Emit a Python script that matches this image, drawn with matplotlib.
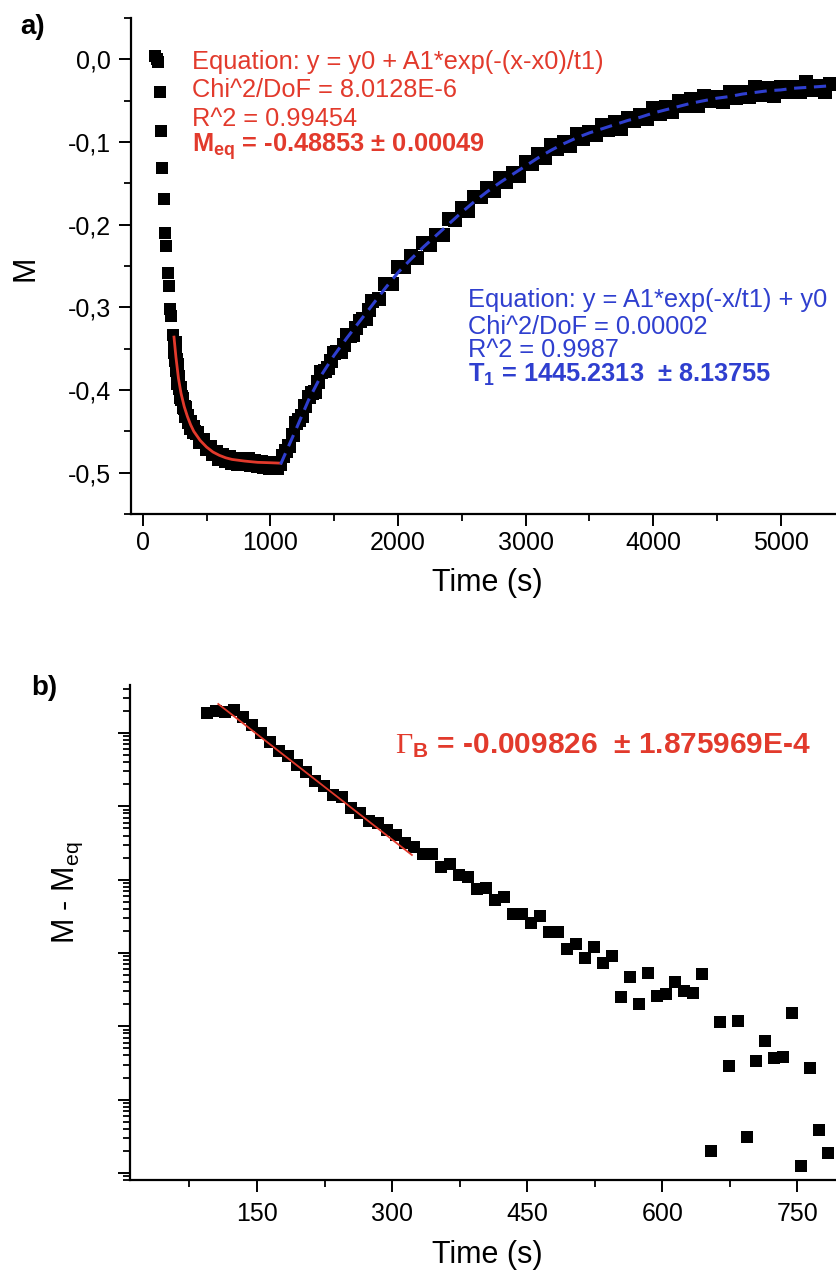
import numpy as np
import matplotlib
matplotlib.use('Agg')
import matplotlib.pyplot as plt
from matplotlib.ticker import MultipleLocator, FuncFormatter, LogLocator, NullFormatter

plt.rcParams['font.family'] = ['Liberation Sans', 'DejaVu Sans']
plt.rcParams['mathtext.fontset'] = 'custom'
plt.rcParams['mathtext.rm'] = 'Liberation Sans'
plt.rcParams['mathtext.bf'] = 'Liberation Sans:bold'
plt.rcParams['mathtext.it'] = 'Liberation Sans:italic'
plt.rcParams['mathtext.sf'] = 'Liberation Serif'

# ---- panel a : magnetisation vs time ----
# first sparse points of the fast drop
t_drop = [100, 112, 122, 134, 141, 150, 163, 178, 185, 198, 205, 216, 223, 236]
m_drop = [0.004, 0.000, -0.003, -0.039, -0.087, -0.131, -0.169, -0.210, -0.226,
          -0.259, -0.274, -0.302, -0.311, -0.333]

# dense part (decay to M_eq then recovery)
t_band = [250, 260, 270, 280, 290, 300, 310, 320, 330, 340, 350, 360, 370, 380, 390, 400,
          425, 450, 475, 500, 525, 550, 575, 600, 625, 650, 675, 700, 725, 750, 775, 800,
          825, 850, 875, 900, 925, 950, 975, 1000, 1025, 1050, 1075,
          1100, 1150, 1200, 1250, 1300, 1350, 1400, 1450, 1500, 1550, 1600, 1650, 1700,
          1750, 1800, 1850, 1900, 1950, 2000, 2050, 2100, 2150, 2200, 2250, 2300, 2350,
          2400, 2450, 2500, 2550, 2600, 2650, 2700, 2750, 2800, 2850, 2900, 2950, 3000,
          3050, 3100, 3150, 3200, 3250, 3300, 3350, 3400, 3450, 3500, 3550, 3600, 3650,
          3700, 3750, 3800, 3850, 3900, 3950, 4000, 4050, 4100, 4150, 4200, 4250, 4300,
          4350, 4400, 4450, 4500, 4550, 4600, 4650, 4700, 4750, 4800, 4850, 4900, 4950,
          5000, 5050, 5100, 5150, 5200, 5250, 5300, 5350, 5390]
m_band = [-0.343, -0.364, -0.376, -0.392, -0.397, -0.409, -0.411, -0.421, -0.422, -0.431,
          -0.431, -0.439, -0.439, -0.446, -0.445, -0.451,
          -0.452, -0.463, -0.461, -0.471, -0.469, -0.478, -0.475, -0.483, -0.479, -0.486,
          -0.481, -0.488, -0.483, -0.489, -0.484, -0.490, -0.484, -0.491, -0.486, -0.492,
          -0.487, -0.493, -0.488, -0.494, -0.488, -0.494, -0.490,
          -0.480, -0.468, -0.440, -0.432, -0.408, -0.402, -0.378, -0.373, -0.355, -0.354,
          -0.334, -0.333, -0.317, -0.314, -0.292, -0.290, -0.272, -0.272, -0.251, -0.251,
          -0.238, -0.240, -0.222, -0.225, -0.212, -0.212, -0.193, -0.194, -0.180, -0.183,
          -0.166, -0.167, -0.156, -0.159, -0.143, -0.148, -0.138, -0.141, -0.124, -0.127,
          -0.115, -0.119, -0.104, -0.108, -0.100, -0.105, -0.090, -0.096, -0.088, -0.092,
          -0.079, -0.086, -0.076, -0.084, -0.071, -0.075, -0.067, -0.072, -0.059, -0.066,
          -0.058, -0.064, -0.051, -0.057, -0.048, -0.056, -0.044, -0.051, -0.045, -0.052,
          -0.040, -0.047, -0.040, -0.046, -0.034, -0.043, -0.035, -0.044, -0.033, -0.039,
          -0.033, -0.040, -0.028, -0.037, -0.032, -0.040, -0.030]

# extra points read where the band is steep
t_fill = [255, 265, 275, 1125, 1175, 1225, 1275, 1325, 1375, 1425, 1475, 1525, 1575,
          1625, 1675, 1725, 1775]
m_fill = [-0.354, -0.370, -0.384, -0.474, -0.455, -0.436, -0.419, -0.404, -0.390,
          -0.377, -0.365, -0.354, -0.345, -0.335, -0.325, -0.314, -0.303]

# exponential decay fit (red)
t_fit1 = [245, 260, 280, 300, 325, 350, 375, 400, 450, 500, 550, 600, 650, 700, 800, 900, 1000, 1080]
m_fit1 = [-0.336, -0.360, -0.386, -0.404, -0.420, -0.432, -0.442, -0.450, -0.461, -0.469,
          -0.475, -0.479, -0.482, -0.484, -0.486, -0.4875, -0.488, -0.4885]

# recovery fit (blue dashed)
t_fit2 = [1080, 1200, 1300, 1400, 1500, 1600, 1700, 1800, 1900, 2000, 2100, 2200, 2300,
          2400, 2500, 2600, 2700, 2800, 2900, 3000, 3100, 3200, 3300, 3400, 3500, 3600,
          3700, 3800, 3900, 4000, 4100, 4200, 4300, 4400, 4500, 4600, 4700, 4800, 4900,
          5000, 5100, 5200, 5300, 5390]
m_fit2 = [-0.490, -0.448, -0.412, -0.382, -0.358, -0.337, -0.317, -0.297, -0.277, -0.258,
          -0.242, -0.227, -0.213, -0.199, -0.185, -0.172, -0.160, -0.149, -0.139, -0.129,
          -0.119, -0.110, -0.102, -0.095, -0.089, -0.084, -0.079, -0.074, -0.070, -0.065,
          -0.061, -0.057, -0.053, -0.050, -0.047, -0.045, -0.042, -0.040, -0.038, -0.037,
          -0.035, -0.034, -0.033, -0.032]

# ---- panel b : M - M_eq (log) vs time ----
t_log = [94, 104, 114, 124, 134, 144, 154, 164, 174, 184, 194, 204, 214, 224, 234, 244,
         254, 264, 274, 284, 294, 304, 314, 324, 334, 344, 354, 364, 374, 384, 394, 404,
         414, 424, 434, 444, 454, 464, 474, 484, 494, 504, 514, 524, 534, 544, 554, 564,
         574, 584, 594, 604, 614, 624, 634, 644, 654, 664, 674, 684, 694, 704, 714, 724,
         734, 744, 754, 764, 774, 784]
dm_log = [189, 200, 195, 206, 164, 129, 99, 76, 57.4, 48.5, 36.6, 29.6, 22.3, 18.9, 14.3,
          13.3, 9.4, 8.2, 6.4, 6.0, 4.75, 4.06, 3.13, 2.81, 2.23, 2.23, 1.49, 1.63, 1.16,
          1.07, 0.738, 0.775, 0.527, 0.585, 0.336, 0.336, 0.254, 0.318, 0.191, 0.191, 0.112,
          0.132, 0.0859, 0.1216, 0.0721, 0.0908, 0.0248, 0.0473, 0.0199, 0.0537, 0.0258,
          0.0272, 0.0397, 0.0305, 0.0281, 0.0511, 2.0e-4, 0.0113, 2.86e-3, 0.0119, 3.05e-4,
          3.35e-3, 6.28e-3, 3.65e-3, 3.84e-3, 0.015, 1.25e-4, 2.67e-3, 3.84e-4, 1.85e-4]

t_fit3 = [107, 322]
dm_fit3 = [249, 2.17]

red = '#e23a2c'
blue = '#2f3fcf'

W, H = 837, 1277
def fx(px):
    return px / W
def fy(py):
    return 1 - py / H

fig = plt.figure(figsize=(W / 100, H / 100), dpi=100)
ax1 = fig.add_axes([fx(131), fy(514), (837 - 131) / W, (514 - 18) / H])
ax2 = fig.add_axes([fx(130), fy(1180), (837 - 130) / W, (1180 - 685) / H])

for ax in (ax1, ax2):
    ax.spines['top'].set_visible(False)
    ax.spines['right'].set_visible(False)
    for s in ('left', 'bottom'):
        ax.spines[s].set_linewidth(1.6)
    ax.tick_params(which='major', direction='out', length=8.5, width=1.4, labelsize=18)
    ax.tick_params(which='minor', direction='out', length=5, width=1.3)

# panel a
ax1.plot(t_drop, m_drop, 's', color='black', ms=8, mew=0, zorder=2)
ax1.plot(t_band, m_band, 's', color='black', ms=10, mew=0, zorder=2)
ax1.plot(t_fill, m_fill, 's', color='black', ms=10, mew=0, zorder=2)
ax1.plot(t_fit1, m_fit1, '-', color=red, lw=2.0, zorder=3)
ax1.plot(t_fit2, m_fit2, '--', color=blue, lw=2.2, dashes=(4, 2.5), zorder=3)
ax1.set_xlim(-92, 5441)
ax1.set_ylim(-0.55, 0.05)
ax1.xaxis.set_major_locator(MultipleLocator(1000))
ax1.xaxis.set_minor_locator(MultipleLocator(500))
ax1.yaxis.set_major_locator(MultipleLocator(0.1))
ax1.yaxis.set_minor_locator(MultipleLocator(0.05))
ax1.yaxis.set_major_formatter(FuncFormatter(
    lambda v, p: ('%.1f' % (0.0 if abs(v) < 1e-9 else v)).replace('.', ',')))
ax1.tick_params(axis='x', pad=4)
ax1.tick_params(axis='y', pad=6)

# panel b
ax2.plot(t_log, dm_log, 's', color='black', ms=9, mew=0, zorder=2)
ax2.plot(t_fit3, dm_fit3, '-', color=red, lw=1.3, zorder=3)
ax2.set_yscale('log')
ax2.set_xlim(9, 794)
ax2.set_ylim(8.0e-5, 452)
ax2.xaxis.set_major_locator(MultipleLocator(150))
ax2.xaxis.set_minor_locator(MultipleLocator(75))
ax2.yaxis.set_major_locator(LogLocator(base=10, numticks=20))
ax2.yaxis.set_minor_locator(LogLocator(base=10, subs=np.arange(2, 10), numticks=20))
ax2.yaxis.set_major_formatter(NullFormatter())
ax2.yaxis.set_minor_formatter(NullFormatter())
ax2.tick_params(axis='x', pad=7)

# labels
fig.text(fx(33), fy(27), 'a)', fontsize=20, fontweight='bold', ha='center', va='center')
fig.text(fx(44), fy(688), 'b)', fontsize=20, fontweight='bold', ha='center', va='center')
fig.text(fx(25), fy(268), 'M', fontsize=22, rotation=90, ha='center', va='center')
fig.text(fx(487), fy(583), 'Time (s)', fontsize=22, ha='center', va='center')
fig.text(fx(68), fy(893), r'M - M$_{\mathrm{eq}}$', fontsize=22, rotation=90, ha='center', va='center')
fig.text(fx(487), fy(1255), 'Time (s)', fontsize=22, ha='center', va='center')

# fit annotations
red_lines = ['Equation: y = y0 + A1*exp(-(x-x0)/t1)', 'Chi^2/DoF = 8.0128E-6', 'R^2 = 0.99454']
for txt, yb in zip(red_lines, [69, 97, 126]):
    fig.text(fx(192), fy(yb), txt, color=red, fontsize=18.3, va='baseline')
fig.text(fx(192), fy(152), r'$\mathbf{M_{eq}}$ = -0.48853 ± 0.00049', color=red,
         fontsize=18.3, fontweight='bold', va='baseline')

blue_lines = ['Equation: y = A1*exp(-x/t1) + y0', 'Chi^2/DoF = 0.00002', 'R^2 = 0.9987']
for txt, yb in zip(blue_lines, [307, 334, 357]):
    fig.text(fx(468), fy(yb), txt, color=blue, fontsize=18.3, va='baseline')
fig.text(fx(468), fy(382), r'$\mathbf{T_1}$ = 1445.2313  ± 8.13755', color=blue,
         fontsize=18.3, fontweight='bold', va='baseline')

fig.text(fx(395), fy(753), r'$\mathsf{\Gamma}_{\mathbf{B}}$ = -0.009826  ± 1.875969E-4',
         color=red, fontsize=21.5, fontweight='bold', va='baseline')

fig.savefig('out.png', dpi=100)
